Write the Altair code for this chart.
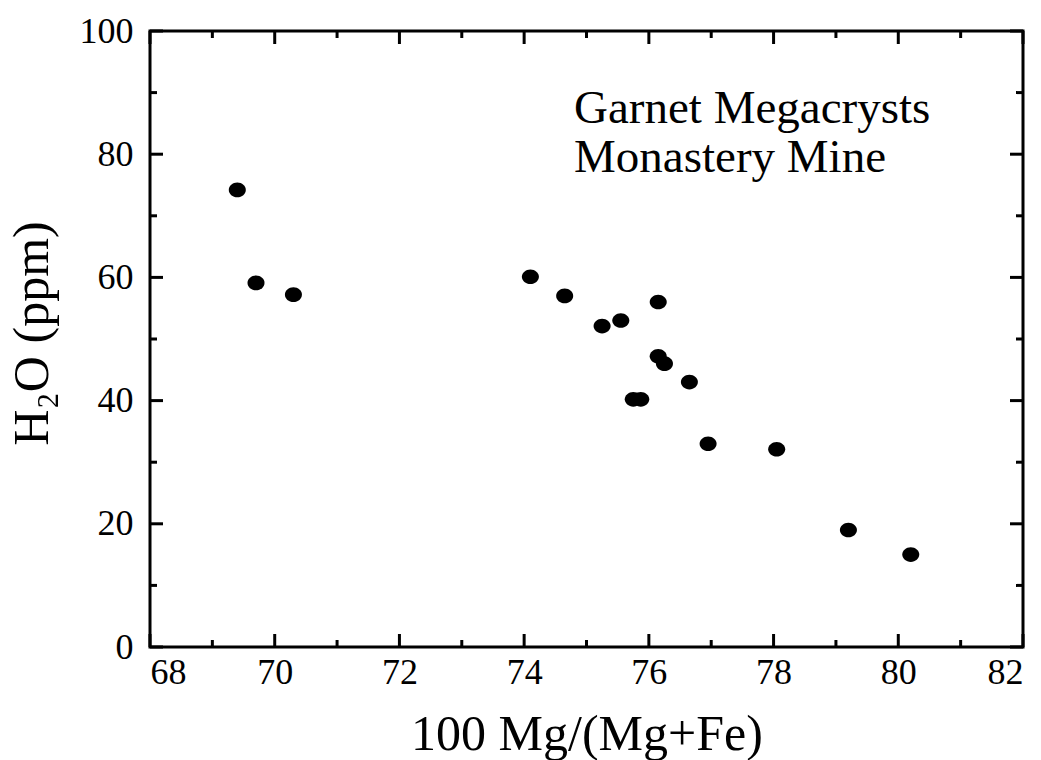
import altair as alt
import pandas as pd

# Data
mg_number = [69.4, 69.7, 70.3, 74.1, 74.65, 75.25, 75.55, 76.15, 76.15, 76.25,
             75.75, 75.87, 76.65, 76.95, 78.05, 79.2, 80.2]
h2o_ppm = [74.2, 59.1, 57.2, 60.1, 57.0, 52.1, 53.0, 56.0, 47.2, 46.0,
           40.2, 40.2, 43.0, 33.0, 32.1, 19.0, 15.0]

x_major = [68, 70, 72, 74, 76, 78, 80, 82]
x_minor = [69, 71, 73, 75, 77, 79, 81]
y_major = [0, 20, 40, 60, 80, 100]
y_minor = [10, 30, 50, 70, 90]

annotation_lines = ["Garnet Megacrysts", "Monastery Mine"]
x_title = "100 Mg/(Mg+Fe)"
y_title = "H\u2082O (ppm)"

W, H = 873, 616
FONT = "Liberation Serif"
MAJ, MIN = 13, 7

xs = alt.Scale(domain=[68, 82], nice=False, zero=False)
ys = alt.Scale(domain=[0, 100], nice=False, zero=False)

df = pd.DataFrame({"mg": mg_number, "h2o": h2o_ppm})

points = alt.Chart(df).mark_point(
    filled=True, color="black", opacity=1, size=290,
    shape="M -1 0 A 1 0.86 0 1 1 1 0 A 1 0.86 0 1 1 -1 0 Z",
).encode(
    x=alt.X("mg:Q", scale=xs, axis=alt.Axis(
        title=x_title, values=x_major, format="d", ticks=False, domain=False,
        grid=False, labelFont=FONT, labelFontSize=36, labelColor="black",
        labelPadding=8, titleFont=FONT, titleFontSize=50,
        titleFontWeight="normal", titleColor="black", titlePadding=19)),
    y=alt.Y("h2o:Q", scale=ys, axis=alt.Axis(
        title=y_title, values=y_major, format="d", ticks=False, domain=False,
        grid=False, labelFont=FONT, labelFontSize=36, labelColor="black",
        labelPadding=17, titleFont=FONT, titleFontSize=50,
        titleFontWeight="normal", titleColor="black", titlePadding=22,
        titleY=302)),
)


def xticks(vals, length, top):
    d = pd.DataFrame({"v": vals})
    y0 = 0 if top else H
    y1 = length if top else H - length
    return alt.Chart(d).mark_rule(color="black", strokeWidth=3).encode(
        x=alt.X("v:Q", scale=xs),
        y=alt.value(y0), y2=alt.value(y1))


def yticks(vals, length, right):
    d = pd.DataFrame({"v": vals})
    x0 = W if right else 0
    x1 = W - length if right else length
    return alt.Chart(d).mark_rule(color="black", strokeWidth=3).encode(
        y=alt.Y("v:Q", scale=ys),
        x=alt.value(x0), x2=alt.value(x1))


ticks = [
    xticks(x_major, MAJ, False), xticks(x_minor, MIN, False),
    xticks(x_major, MAJ, True), xticks(x_minor, MIN, True),
    yticks(y_major, MAJ, False), yticks(y_minor, MIN, False),
    yticks(y_major, MAJ, True), yticks(y_minor, MIN, True),
]

label = alt.Chart(pd.DataFrame({"a": [0]})).mark_text(
    text=annotation_lines, font=FONT, fontSize=47, color="black",
    align="left", baseline="alphabetic", lineHeight=49,
).encode(x=alt.datum(74.8), y=alt.datum(85.1))

chart = alt.layer(points, *ticks, label).properties(
    width=W, height=H,
    autosize=alt.AutoSizeParams(type="none"),
    padding={"left": 150, "top": 31, "right": 18, "bottom": 113},
    background="white",
).configure_view(stroke="black", strokeWidth=3)

chart.save("out.html", embed_options={"renderer": "svg", "actions": False})
